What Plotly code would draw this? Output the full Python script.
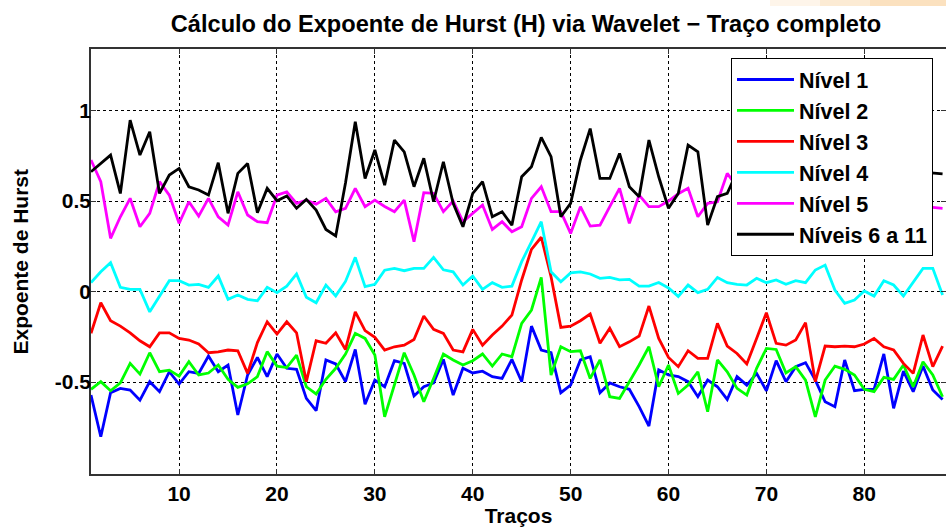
import plotly.graph_objects as go

# ---------------- data ----------------
tracos = list(range(1, 89))

nivel1 = [-0.572, -0.802, -0.559, -0.535, -0.544, -0.600, -0.498, -0.553, -0.443, -0.511,
          -0.443, -0.452, -0.356, -0.443, -0.406, -0.682, -0.461, -0.364, -0.470, -0.345,
          -0.424, -0.430, -0.590, -0.658, -0.378, -0.400, -0.498, -0.320, -0.622, -0.489,
          -0.526, -0.382, -0.397, -0.577, -0.526, -0.505, -0.375, -0.572, -0.424, -0.450,
          -0.440, -0.470, -0.480, -0.375, -0.498, -0.191, -0.323, -0.338, -0.559, -0.517,
          -0.378, -0.360, -0.559, -0.505, -0.526, -0.540, -0.636, -0.743, -0.433, -0.461,
          -0.470, -0.498, -0.581, -0.489, -0.526, -0.596, -0.470, -0.517, -0.452, -0.548,
          -0.382, -0.498, -0.415, -0.393, -0.489, -0.609, -0.636, -0.378, -0.548, -0.540,
          -0.540, -0.345, -0.645, -0.440, -0.553, -0.412, -0.544, -0.596]

nivel2 = [-0.540, -0.498, -0.548, -0.505, -0.397, -0.456, -0.338, -0.443, -0.434, -0.467,
          -0.388, -0.461, -0.450, -0.406, -0.485, -0.529, -0.510, -0.470, -0.332, -0.412,
          -0.420, -0.351, -0.526, -0.566, -0.485, -0.424, -0.345, -0.231, -0.259, -0.351,
          -0.692, -0.517, -0.338, -0.461, -0.609, -0.480, -0.345, -0.378, -0.406, -0.382,
          -0.345, -0.412, -0.345, -0.360, -0.176, -0.102, 0.078, -0.461, -0.305, -0.332,
          -0.327, -0.480, -0.378, -0.581, -0.590, -0.498, -0.406, -0.305, -0.526, -0.406,
          -0.563, -0.517, -0.443, -0.664, -0.378, -0.443, -0.535, -0.572, -0.424, -0.314,
          -0.320, -0.450, -0.415, -0.489, -0.692, -0.489, -0.412, -0.430, -0.461, -0.540,
          -0.553, -0.474, -0.485, -0.406, -0.526, -0.388, -0.461, -0.581]

nivel3 = [-0.231, -0.062, -0.161, -0.191, -0.228, -0.272, -0.305, -0.228, -0.228, -0.259,
          -0.268, -0.290, -0.338, -0.333, -0.323, -0.327, -0.452, -0.282, -0.167, -0.235,
          -0.167, -0.228, -0.498, -0.272, -0.286, -0.228, -0.320, -0.112, -0.216, -0.253,
          -0.323, -0.305, -0.296, -0.265, -0.135, -0.209, -0.231, -0.323, -0.333, -0.209,
          -0.296, -0.240, -0.191, -0.130, 0.064, 0.233, 0.300, 0.082, -0.198, -0.191,
          -0.161, -0.124, -0.286, -0.203, -0.305, -0.278, -0.246, -0.080, -0.259, -0.364,
          -0.415, -0.327, -0.369, -0.369, -0.176, -0.301, -0.342, -0.400, -0.259, -0.117,
          -0.286, -0.296, -0.268, -0.172, -0.498, -0.301, -0.305, -0.301, -0.305, -0.290,
          -0.259, -0.305, -0.323, -0.397, -0.452, -0.240, -0.415, -0.301]

nivel4 = [0.049, 0.109, 0.159, 0.023, 0.012, 0.012, -0.112, -0.029, 0.060, 0.060,
          0.036, 0.040, 0.023, 0.086, -0.043, -0.019, -0.043, -0.051, 0.023, -0.006,
          0.030, 0.097, -0.032, -0.062, 0.036, -0.024, 0.056, 0.189, 0.027, 0.040,
          0.118, 0.128, 0.115, 0.128, 0.128, 0.189, 0.120, 0.109, 0.036, 0.086,
          0.012, 0.049, 0.023, 0.030, 0.165, 0.275, 0.386, 0.109, 0.054, 0.103,
          0.109, 0.097, 0.073, 0.078, 0.064, 0.067, 0.030, 0.030, 0.050, 0.020,
          -0.027, 0.036, -0.006, 0.012, 0.078, 0.049, 0.040, 0.036, 0.073, 0.049,
          0.064, 0.040, 0.060, 0.049, 0.119, 0.146, 0.008, -0.065, -0.047, 0.003,
          -0.025, 0.060, 0.036, -0.025, 0.054, 0.128, 0.128, -0.019]

nivel5 = [0.727, 0.607, 0.294, 0.413, 0.515, 0.358, 0.432, 0.607, 0.533, 0.377,
          0.496, 0.417, 0.515, 0.413, 0.367, 0.551, 0.423, 0.386, 0.380, 0.533,
          0.551, 0.487, 0.505, 0.483, 0.515, 0.441, 0.460, 0.570, 0.469, 0.505,
          0.470, 0.441, 0.505, 0.275, 0.546, 0.542, 0.441, 0.500, 0.386, 0.432,
          0.478, 0.343, 0.386, 0.330, 0.358, 0.515, 0.579, 0.441, 0.441, 0.321,
          0.469, 0.362, 0.367, 0.469, 0.570, 0.377, 0.533, 0.469, 0.469, 0.500,
          0.540, 0.570, 0.413, 0.487, 0.496, 0.653, 0.580, 0.490, 0.530, 0.450,
          0.500, 0.550, 0.470, 0.520, 0.440, 0.510, 0.560, 0.480, 0.500, 0.450,
          0.530, 0.490, 0.470, 0.540, 0.500, 0.470, 0.465, 0.460]

niveis6a11 = [0.662, 0.710, 0.754, 0.542, 0.947, 0.754, 0.883, 0.542, 0.644, 0.680,
              0.579, 0.561, 0.533, 0.712, 0.432, 0.653, 0.708, 0.435, 0.570, 0.502,
              0.528, 0.460, 0.509, 0.450, 0.343, 0.307, 0.600, 0.938, 0.625, 0.782,
              0.588, 0.837, 0.772, 0.579, 0.736, 0.496, 0.717, 0.487, 0.358, 0.542,
              0.607, 0.413, 0.441, 0.367, 0.634, 0.690, 0.852, 0.745, 0.413, 0.487,
              0.727, 0.900, 0.625, 0.625, 0.763, 0.579, 0.524, 0.837, 0.634, 0.460,
              0.542, 0.809, 0.772, 0.367, 0.524, 0.542, 0.660, 0.580, 0.740, 0.520,
              0.630, 0.800, 0.550, 0.470, 0.690, 0.610, 0.780, 0.540, 0.490, 0.720,
              0.600, 0.830, 0.560, 0.640, 0.700, 0.660, 0.655, 0.650]

series_names = ["Nível 1", "Nível 2", "Nível 3", "Nível 4", "Nível 5", "Níveis 6 a 11"]
series_values = [nivel1, nivel2, nivel3, nivel4, nivel5, niveis6a11]
series_colors = ["#0000FF", "#00FF00", "#FF0000", "#00FFFF", "#FF00FF", "#000000"]

x_ticks = [10, 20, 30, 40, 50, 60, 70, 80]
y_ticks = [-0.5, 0, 0.5, 1]
y_tick_labels = ["-0.5", "0", "0.5", "1"]

title_text = "Cálculo do Expoente de Hurst (H) via Wavelet − Traço completo"
x_title = "Traços"
y_title = "Expoente de Hurst"

# ---------------- figure ----------------
W, H = 946, 527
L, R, T, B = 91, 0, 49, 53

fig = go.Figure()
for name, vals, col in zip(series_names, series_values, series_colors):
    fig.add_trace(go.Scatter(x=tracos, y=vals, mode="lines", name="<b>" + name + "</b>",
                             line=dict(color=col, width=2.8)))

FONT = "Liberation Sans, Arial, sans-serif"

fig.update_layout(
    width=W, height=H,
    margin=dict(l=L, r=R, t=T, b=B, autoexpand=False),
    plot_bgcolor="white", paper_bgcolor="white",
    font=dict(family=FONT, color="black"),
    title=dict(text="<b>" + title_text + "</b>", x=526 / W, xanchor="center",
               y=1 - 24 / H, yanchor="middle", xref="container", yref="container",
               font=dict(size=23.6, color="black")),
    showlegend=True,
    legend=dict(x=(731 - L) / (W - L - R), y=(H - B - 58) / (H - T - B),
                xanchor="left", yanchor="top",
                bgcolor="white", bordercolor="black", borderwidth=1,
                font=dict(size=21.5, color="black"),
                tracegroupgap=0, itemwidth=57),
)

fig.update_xaxes(
    range=[1, 88.35], tickmode="array", tickvals=x_ticks,
    ticktext=["<b>%d</b>" % v for v in x_ticks],
    tickfont=dict(size=21, color="black"),
    showgrid=True, gridcolor="black", griddash="dot", gridwidth=1,
    ticks="inside", ticklen=5, tickcolor="#333333",
    showline=True, linecolor="#333333", linewidth=1.5, mirror="ticks",
    zeroline=False, automargin=False,
    title=dict(text="<b>" + x_title + "</b>", font=dict(size=21, color="black"), standoff=6),
)
fig.update_yaxes(
    range=[-1.008, 1.34], tickmode="array", tickvals=y_ticks,
    ticktext=["<b>%s</b>" % t for t in y_tick_labels],
    tickfont=dict(size=21, color="black"),
    showgrid=True, gridcolor="black", griddash="dot", gridwidth=1,
    ticks="inside", ticklen=5, tickcolor="#333333",
    showline=True, linecolor="#333333", linewidth=1.5, mirror="ticks",
    zeroline=False, automargin=False, ticklabelstandoff=-6,
)

# y-axis title placed as rotated text left of the tick labels
fig.add_annotation(text="<b>" + y_title + "</b>", xref="paper", yref="paper",
                   x=(20 - L) / (W - L - R), y=0.5, xanchor="center", yanchor="middle",
                   textangle=-90, showarrow=False, font=dict(size=21, color="black"))

# peach band at top right of the slide background
def px_to_paper_x(px):
    return (px - L) / (W - L - R)

def px_to_paper_y(py):
    return (H - B - py) / (H - T - B)

band = [(770, 820, "rgba(250,215,170,0.25)"), (820, 870, "rgba(250,215,170,0.5)"),
        (870, 946, "rgba(250,215,170,0.75)")]
for x0, x1, c in band:
    fig.add_shape(type="rect", xref="paper", yref="paper",
                  x0=px_to_paper_x(x0), x1=px_to_paper_x(x1),
                  y0=px_to_paper_y(6), y1=px_to_paper_y(0),
                  fillcolor=c, line=dict(width=0), layer="below")

# remove the default page margin so the figure sits at the window's top-left corner
fig.write_html("out.html", config={"displayModeBar": False},
               post_script="document.body.style.margin='0';document.body.style.overflow='hidden';")
